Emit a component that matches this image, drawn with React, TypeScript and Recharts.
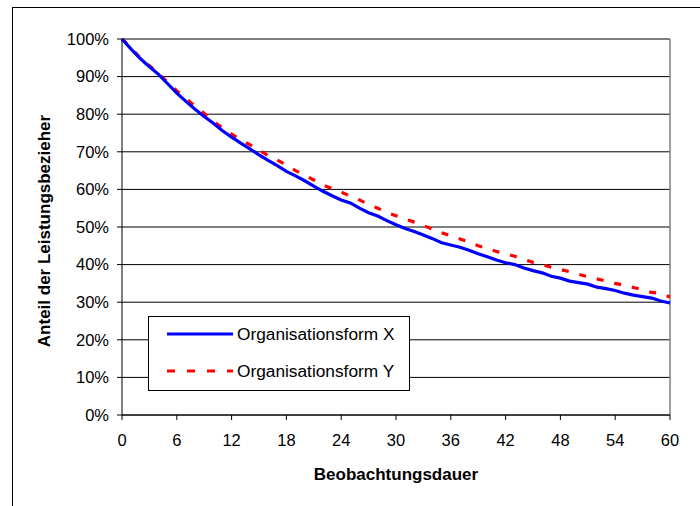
import React from 'react';
import { LineChart, Line, XAxis, YAxis, CartesianGrid, Legend, ReferenceLine, Label } from 'recharts';

const months = [0, 1, 2, 3, 4, 5, 6, 7, 8, 9, 10, 11, 12, 13, 14, 15, 16, 17, 18, 19, 20, 21, 22, 23, 24, 25, 26, 27, 28, 29, 30, 31, 32, 33, 34, 35, 36, 37, 38, 39, 40, 41, 42, 43, 44, 45, 46, 47, 48, 49, 50, 51, 52, 53, 54, 55, 56, 57, 58, 59, 60];

const formX = [100, 97.3, 94.8, 92.6, 90.6, 88.1, 85.6, 83.4, 81.3, 79.4, 77.6, 75.6, 73.9, 72.3, 70.8, 69.2, 67.7, 66.3, 64.8, 63.6, 62.3, 60.9, 59.5, 58.3, 57.2, 56.4, 55.0, 53.8, 52.9, 51.7, 50.6, 49.6, 48.8, 47.9, 46.9, 45.8, 45.2, 44.6, 43.8, 42.9, 42.1, 41.2, 40.5, 40.0, 39.1, 38.4, 37.8, 36.9, 36.4, 35.6, 35.2, 34.8, 34.0, 33.6, 33.1, 32.4, 31.9, 31.5, 31.1, 30.3, 29.8];

const formY = [100, 97.6, 95.0, 92.9, 90.8, 88.5, 86.2, 84.2, 82.1, 80.2, 78.1, 76.4, 74.7, 73.2, 71.9, 70.4, 69.0, 67.8, 66.5, 65.0, 63.8, 62.5, 61.2, 60.2, 59.3, 58.2, 57.2, 56.0, 55.0, 53.9, 53.0, 52.1, 51.3, 50.4, 49.4, 48.5, 47.6, 46.8, 46.0, 45.0, 44.3, 43.5, 42.9, 42.2, 41.4, 40.6, 40.0, 39.3, 38.7, 38.1, 37.4, 36.8, 36.2, 35.6, 35.0, 34.5, 33.9, 33.3, 32.6, 32.3, 31.4];

const xTicks = [0, 6, 12, 18, 24, 30, 36, 42, 48, 54, 60];
const yTicks = [0, 10, 20, 30, 40, 50, 60, 70, 80, 90, 100];

const seriesNames = ['Organisationsform X', 'Organisationsform Y'];
const xAxisTitle = 'Beobachtungsdauer';
const yAxisTitle = 'Anteil der Leistungsbezieher';

const data = months.map((m, i) => ({ m, x: formX[i], y: formY[i] }));

const FONT = '"Liberation Sans", Arial, sans-serif';
const BLUE = '#0000FF';
const RED = '#FF0000';
const DASH = '7 11';

const renderLegend = () => {
  const rows = [
    { name: seriesNames[0], color: BLUE, dash: undefined as string | undefined },
    { name: seriesNames[1], color: RED, dash: '8 12' },
  ];
  return (
    <div
      style={{
        position: 'relative',
        width: 262,
        height: 75,
        border: '1px solid #000',
        background: '#fff',
        boxSizing: 'border-box',
        fontFamily: FONT,
        fontSize: 17.3,
        color: '#000',
      }}
    >
      {rows.map((r, i) => (
        <div
          key={r.name}
          style={{
            position: 'absolute',
            left: 18,
            top: i === 0 ? 6 : 43,
            height: 22,
            display: 'flex',
            alignItems: 'center',
            whiteSpace: 'nowrap',
          }}
        >
          <svg width={66} height={6} style={{ display: 'block' }}>
            <line x1={0} y1={3} x2={66} y2={3} stroke={r.color} strokeWidth={3.2} strokeDasharray={r.dash} />
          </svg>
          <span style={{ marginLeft: 4 }}>{r.name}</span>
        </div>
      ))}
    </div>
  );
};

export default function App() {
  return (
    <div style={{ position: 'absolute', left: 0, top: 0, width: 700, height: 506, overflow: 'hidden', background: '#fff' }}>
      <div
        style={{
          position: 'absolute',
          left: 12,
          top: 7,
          width: 688,
          height: 499,
          borderTop: '1px solid #000',
          borderLeft: '1px solid #000',
          boxSizing: 'border-box',
        }}
      />
      <div style={{ position: 'absolute', left: 0, top: 0 }}>
        <LineChart
          width={700}
          height={506}
          data={data}
          margin={{ top: 39, right: 30, bottom: 61, left: 0 }}
          style={{ fontFamily: FONT }}
        >
          <CartesianGrid horizontal={true} vertical={false} stroke="#000" strokeWidth={1} />
          <ReferenceLine x={60} stroke="#808080" strokeWidth={1.5} ifOverflow="visible" />
          <ReferenceLine y={100} stroke="#808080" strokeWidth={1.5} ifOverflow="visible" />
          <XAxis
            dataKey="m"
            type="number"
            domain={[0, 60]}
            ticks={xTicks}
            interval={0}
            height={30}
            tickSize={5}
            tickMargin={14}
            axisLine={{ stroke: '#000' }}
            tickLine={{ stroke: '#000' }}
            tick={{ fill: '#000', fontSize: 16.5, fontFamily: FONT }}
          >
            <Label
              content={() => (
                <text x={396} y={480} textAnchor="middle" fontFamily={FONT} fontSize={17} fontWeight="bold" fill="#000">
                  {xAxisTitle}
                </text>
              )}
            />
          </XAxis>
          <YAxis
            type="number"
            domain={[0, 100]}
            ticks={yTicks}
            interval={0}
            width={122}
            tickSize={5}
            tickMargin={8}
            tickFormatter={(v: number) => `${v}%`}
            axisLine={{ stroke: '#000' }}
            tickLine={{ stroke: '#000' }}
            tick={{ fill: '#000', fontSize: 16.5, fontFamily: FONT }}
          >
            <Label
              content={() => (
                <text
                  x={44}
                  y={231}
                  textAnchor="middle"
                  dominantBaseline="central"
                  transform="rotate(-90 44 231)"
                  fontFamily={FONT}
                  fontSize={17}
                  fontWeight="bold"
                  fill="#000"
                >
                  {yAxisTitle}
                </text>
              )}
            />
          </YAxis>
          <Legend
            layout="horizontal"
            verticalAlign="middle"
            align="center"
            content={renderLegend}
            wrapperStyle={{ position: 'absolute', left: 148, top: 316, width: 262, height: 75 }}
          />
          <Line
            type="linear"
            dataKey="y"
            name={seriesNames[1]}
            stroke={RED}
            strokeWidth={3.2}
            strokeDasharray={DASH}
            dot={false}
            activeDot={false}
            isAnimationActive={false}
          />
          <Line
            type="linear"
            dataKey="x"
            name={seriesNames[0]}
            stroke={BLUE}
            strokeWidth={3.2}
            dot={false}
            activeDot={false}
            isAnimationActive={false}
          />
        </LineChart>
      </div>
    </div>
  );
}
